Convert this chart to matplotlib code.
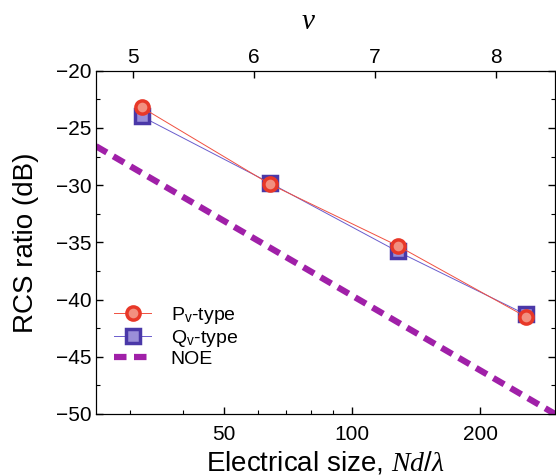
import matplotlib
matplotlib.use("Agg")
import matplotlib.pyplot as plt
from matplotlib.ticker import FixedLocator, NullFormatter, FixedFormatter

# values
ND = [32, 64, 128, 256]
P_DB = [-23.2, -29.9, -35.3, -41.5]
Q_DB = [-24.0, -29.8, -35.8, -41.3]
NOE_ND = [25, 300]
NOE_DB = [-26.6, -50.0]
V_TICKS = [5, 6, 7, 8]
V_LIM = (4.694, 8.488)
X_MAJOR = [50, 100, 200]
X_MINOR = [30, 40, 60, 70, 80, 90]

plt.rcParams["font.family"] = ["Liberation Sans", "DejaVu Sans"]
plt.rcParams["mathtext.fontset"] = "custom"
plt.rcParams["mathtext.rm"] = "Liberation Sans"
plt.rcParams["mathtext.it"] = "Liberation Serif:italic"
plt.rcParams["mathtext.bf"] = "Liberation Sans:bold"


def plot():
    fig = plt.figure(figsize=(5.56, 4.76), dpi=100)
    ax = fig.add_axes([0.1727, 0.1303, 0.8255, 0.7212])

    ax.plot(ND, P_DB, "-o", color="#f05040", lw=0.7, ms=9.5, mew=2.5,
            mec="#e83828", mfc="#f29080", label=r"P$_\mathrm{v}$-type", zorder=4)
    ax.plot(ND, Q_DB, "-s", color="#6a5ccc", lw=0.7, ms=9.5, mew=2.5,
            mec="#4a38a8", mfc="#9a8ed8", label=r"Q$_\mathrm{v}$-type", zorder=3)
    ax.plot(NOE_ND, NOE_DB, "--", color="#a020a8", lw=4.5, dashes=(2.0, 1.2),
            label="NOE", zorder=2)

    ax.set_xscale("log")
    ax.set_xlim(25, 300)
    ax.set_ylim(-50, -20)
    ax.xaxis.set_major_locator(FixedLocator(X_MAJOR))
    ax.xaxis.set_major_formatter(FixedFormatter([str(v) for v in X_MAJOR]))
    ax.xaxis.set_minor_locator(FixedLocator(X_MINOR))
    ax.xaxis.set_minor_formatter(NullFormatter())
    ax.set_yticks(range(-50, -19, 5))
    ax.set_yticklabels([f"\u2212{abs(v)}" for v in range(-50, -19, 5)])
    ax.yaxis.set_minor_locator(FixedLocator([-47.5 + 5 * i for i in range(6)]))

    ax.tick_params(axis="both", which="major", direction="in", length=5,
                   width=1, labelsize=15, right=True)
    ax.tick_params(axis="both", which="minor", direction="in", length=3,
                   width=0.8, right=True)
    ax.tick_params(axis="x", which="both", top=False, pad=8)

    ax.set_xlabel(r"Electrical size, $\mathit{Nd}/\lambda$", fontsize=20, labelpad=4)
    ax.set_ylabel("RCS ratio (dB)", fontsize=20, labelpad=12)

    top = ax.twiny()
    top.set_xlim(*V_LIM)
    top.set_xticks(V_TICKS)
    top.tick_params(axis="x", direction="in", length=5, width=1, labelsize=15, pad=3)
    top.set_xlabel(r"$v$", fontsize=21)
    top.xaxis.set_label_coords(0.462, 1.12)

    ax.legend(loc="lower left", bbox_to_anchor=(0.01, 0.095), frameon=False,
              fontsize=14, handlelength=1.9, handletextpad=1.0,
              labelspacing=0.08, borderaxespad=0.3)
    return fig


def main():
    fig = plot()
    fig.savefig("out.png", dpi=100)


if __name__ == "__main__":
    main()
